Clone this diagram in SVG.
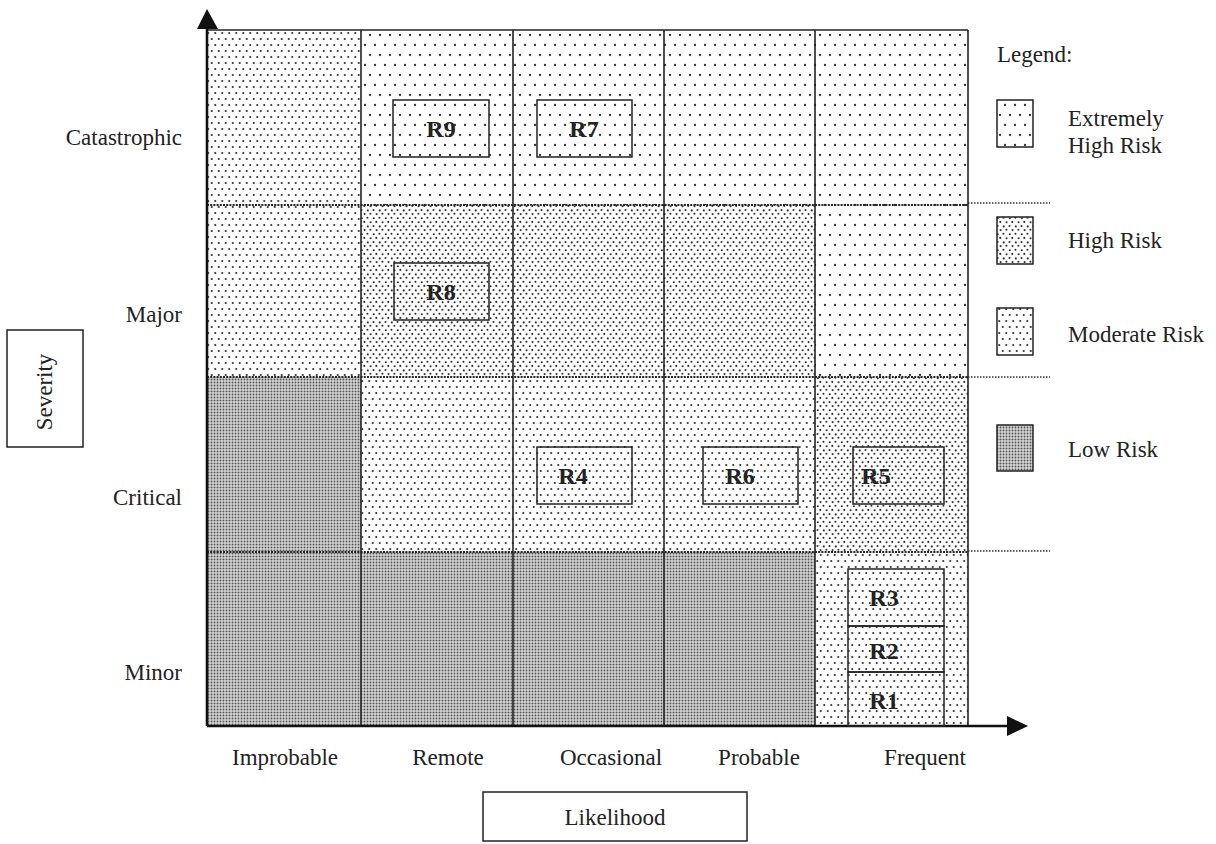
<svg xmlns="http://www.w3.org/2000/svg" width="1216" height="844" viewBox="0 0 1216 844">
<style>
  text { font-family: "Liberation Serif", "Times New Roman", serif; fill: #222; }
  .lbl { font-size: 23px; }
  .rid { font-size: 24px; font-weight: bold; text-anchor: middle; }
  .box { fill: none; stroke: #222; stroke-width: 1.5; }
  .grid { stroke: #222; stroke-width: 1.6; fill: none; }
  .row { stroke: #222; stroke-width: 2; stroke-dasharray: 2 1.2; fill: none; }
  .sep { stroke: #333; stroke-width: 1.6; stroke-dasharray: 1.5 1.5; fill: none; }
  .axis { stroke: #111; stroke-width: 2.6; fill: none; }
</style>
<defs>
  <pattern id="pExt" patternUnits="userSpaceOnUse" width="10" height="20">
    <circle cx="5" cy="5" r="1.15" fill="#333"/>
    <circle cx="0" cy="15" r="1.15" fill="#333"/>
    <circle cx="10" cy="15" r="1.15" fill="#333"/>
  </pattern>
  <pattern id="pMod" patternUnits="userSpaceOnUse" width="7" height="12">
    <circle cx="1.75" cy="3" r="1.1" fill="#333"/>
    <circle cx="5.25" cy="9" r="1.1" fill="#333"/>
  </pattern>
  <pattern id="pHigh" patternUnits="userSpaceOnUse" width="12" height="16">
    <circle cx="1.5" cy="2" r="1.05" fill="#333"/>
    <circle cx="7.8" cy="2.4" r="1.05" fill="#333"/>
    <circle cx="4.6" cy="6.1" r="1.05" fill="#333"/>
    <circle cx="10.4" cy="5.7" r="1.05" fill="#333"/>
    <circle cx="1.8" cy="10.2" r="1.05" fill="#333"/>
    <circle cx="7.4" cy="9.8" r="1.05" fill="#333"/>
    <circle cx="4.3" cy="13.9" r="1.05" fill="#333"/>
    <circle cx="10.6" cy="14.2" r="1.05" fill="#333"/>
  </pattern>
  <pattern id="pLow" patternUnits="userSpaceOnUse" width="3" height="3">
    <rect width="3" height="3" fill="#d6d6d6"/>
    <circle cx="1.5" cy="1.5" r="0.95" fill="#555"/>
  </pattern>
</defs>
<rect width="1216" height="844" fill="#ffffff"/>

<g id="cells">
  <rect x="207" y="30" width="154" height="175" fill="url(#pMod)"/>
  <rect x="361" y="30" width="607" height="175" fill="url(#pExt)"/>
  <rect x="207" y="205" width="154" height="172" fill="url(#pMod)"/>
  <rect x="361" y="205" width="454" height="172" fill="url(#pHigh)"/>
  <rect x="815" y="205" width="153" height="172" fill="url(#pExt)"/>
  <rect x="207" y="377" width="154" height="175" fill="url(#pLow)"/>
  <rect x="361" y="377" width="454" height="175" fill="url(#pMod)"/>
  <rect x="815" y="377" width="153" height="175" fill="url(#pHigh)"/>
  <rect x="207" y="552" width="608" height="174" fill="url(#pLow)"/>
  <rect x="815" y="552" width="153" height="174" fill="url(#pMod)"/>
</g>

<g id="gridlines">
  <line class="grid" x1="207" y1="30" x2="968" y2="30"/>
  <line class="grid" x1="361" y1="30" x2="361" y2="726"/>
  <line class="grid" x1="513" y1="30" x2="513" y2="726"/>
  <line class="grid" x1="664" y1="30" x2="664" y2="726"/>
  <line class="grid" x1="815" y1="30" x2="815" y2="726"/>
  <line class="grid" x1="968" y1="30" x2="968" y2="726"/>
  <line class="row" x1="207" y1="205" x2="968" y2="205"/>
  <line class="row" x1="207" y1="377" x2="968" y2="377"/>
  <line class="row" x1="207" y1="552" x2="968" y2="552"/>
  <line class="sep" x1="968" y1="203" x2="1050" y2="203"/>
  <line class="sep" x1="968" y1="377" x2="1050" y2="377"/>
  <line class="sep" x1="968" y1="551" x2="1050" y2="551"/>
</g>

<g id="connectors">
  <line class="axis" x1="207" y1="726" x2="207" y2="26"/>
  <polygon points="207,9 197,29 218,29" fill="#111"/>
  <line class="axis" x1="207" y1="726" x2="1010" y2="726"/>
  <polygon points="1028,726 1007,716 1007,736" fill="#111"/>
</g>

<g id="R9"><rect class="box" x="393" y="100" width="96" height="57"/><text class="rid" x="441" y="137">R9</text></g>
<g id="R7"><rect class="box" x="537" y="100" width="95" height="57"/><text class="rid" x="584" y="137">R7</text></g>
<g id="R8"><rect class="box" x="394" y="263" width="95" height="57"/><text class="rid" x="441" y="300">R8</text></g>
<g id="R4"><rect class="box" x="537" y="447" width="95" height="57"/><text class="rid" x="573" y="484">R4</text></g>
<g id="R6"><rect class="box" x="703" y="447" width="95" height="57"/><text class="rid" x="740" y="484">R6</text></g>
<g id="R5"><rect class="box" x="853" y="447" width="91" height="57"/><text class="rid" x="876" y="484">R5</text></g>
<g id="R3"><rect class="box" x="848" y="569" width="96" height="57"/><text class="rid" x="884" y="606">R3</text></g>
<g id="R2"><rect class="box" x="848" y="626" width="96" height="46"/><text class="rid" x="884" y="659">R2</text></g>
<g id="R1"><rect class="box" x="848" y="672" width="96" height="54"/><text class="rid" x="884" y="709">R1</text></g>

<g id="severity-labels">
  <text class="lbl" x="182" y="145" text-anchor="end">Catastrophic</text>
  <text class="lbl" x="182" y="322" text-anchor="end">Major</text>
  <text class="lbl" x="182" y="505" text-anchor="end">Critical</text>
  <text class="lbl" x="182" y="680" text-anchor="end">Minor</text>
</g>

<g id="likelihood-labels">
  <text class="lbl" x="285" y="765" text-anchor="middle">Improbable</text>
  <text class="lbl" x="448" y="765" text-anchor="middle">Remote</text>
  <text class="lbl" x="611" y="765" text-anchor="middle">Occasional</text>
  <text class="lbl" x="759" y="765" text-anchor="middle">Probable</text>
  <text class="lbl" x="925" y="765" text-anchor="middle">Frequent</text>
</g>

<g id="severity-title">
  <rect class="box" x="7" y="330" width="76" height="117" stroke-width="1.3"/>
  <text class="lbl" x="0" y="0" text-anchor="middle" transform="translate(52,392) rotate(-90)">Severity</text>
</g>

<g id="likelihood-title">
  <rect class="box" x="483" y="792" width="264" height="49" stroke-width="1.3"/>
  <text class="lbl" x="615" y="825" text-anchor="middle">Likelihood</text>
</g>

<g id="legend">
  <text class="lbl" x="997" y="62">Legend:</text>
  <g id="legend-extreme">
    <rect x="997" y="100" width="36" height="47" fill="url(#pExt)"/>
    <rect class="box" x="997" y="100" width="36" height="47"/>
    <text class="lbl" x="1068" y="126">Extremely</text>
    <text class="lbl" x="1068" y="153">High Risk</text>
  </g>
  <g id="legend-high">
    <rect x="997" y="217" width="36" height="47" fill="url(#pHigh)"/>
    <rect class="box" x="997" y="217" width="36" height="47"/>
    <text class="lbl" x="1068" y="248">High Risk</text>
  </g>
  <g id="legend-moderate">
    <rect x="997" y="308" width="36" height="47" fill="url(#pMod)"/>
    <rect class="box" x="997" y="308" width="36" height="47"/>
    <text class="lbl" x="1068" y="342">Moderate Risk</text>
  </g>
  <g id="legend-low">
    <rect x="997" y="425" width="36" height="46" fill="url(#pLow)"/>
    <rect class="box" x="997" y="425" width="36" height="46"/>
    <text class="lbl" x="1068" y="457">Low Risk</text>
  </g>
</g>
</svg>
